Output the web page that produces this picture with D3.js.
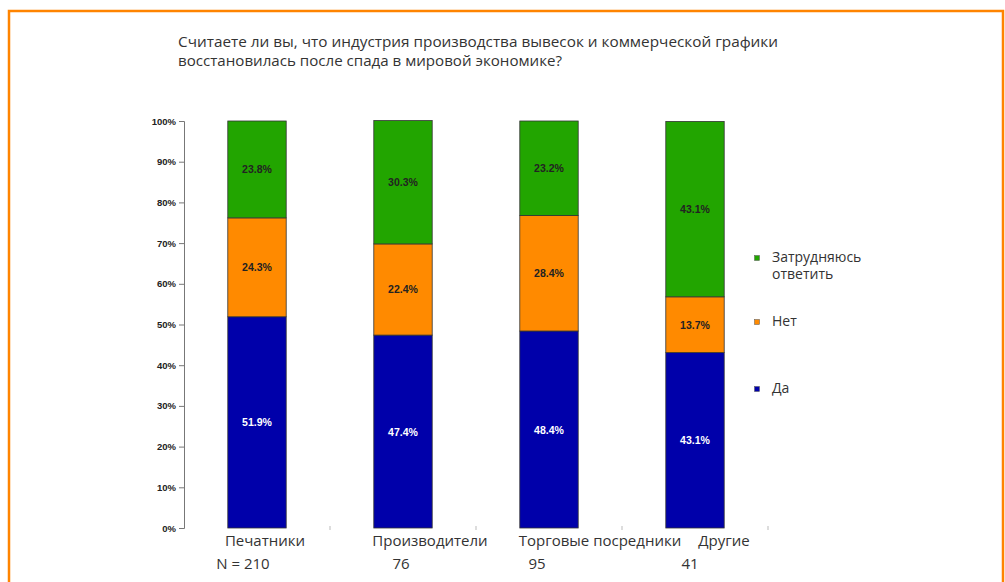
<!DOCTYPE html>
<html>
<head>
<meta charset="utf-8">
<script src="https://cdn.jsdelivr.net/npm/d3@7"></script>
<style>
  body { margin: 0; background: #fff; }
  text { font-family: "Open Sans", "DejaVu Sans", sans-serif; }
  text.num { font-family: "Liberation Sans", Arial, sans-serif; font-weight: bold; }
</style>
</head>
<body>
<svg width="1005" height="582"></svg>
<script>
var categories = ["Печатники", "Производители", "Торговые посредники", "Другие"];
var counts = ["N = 210", "76", "95", "41"];
var seriesNames = ["Да", "Нет", "Затрудняюсь ответить"];
var yes = [51.9, 47.4, 48.4, 43.1];
var no = [24.3, 22.4, 28.4, 13.7];
var unsure = [23.8, 30.3, 23.2, 43.1];
var yTicks = [0, 10, 20, 30, 40, 50, 60, 70, 80, 90, 100];
var titleLines = [
  "Считаете ли вы, что индустрия производства вывесок и коммерческой графики",
  "восстановилась после спада в мировой экономике?"
];

var colors = ["#0000aa", "#ff8a00", "#22a500"];
var textColors = ["#ffffff", "#222222", "#222222"];

var svg = d3.select("svg");

// orange frame
svg.append("path")
  .attr("d", "M9,582 V11 H1003 V582")
  .attr("fill", "none")
  .attr("stroke", "#ff8400")
  .attr("stroke-width", 2.5);

// title
svg.append("g").selectAll("text")
  .data(titleLines)
  .enter()
  .append("text")
  .attr("x", 178)
  .attr("y", function(d, i) { return 47 + i * 19; })
  .attr("font-size", 14)
  .attr("fill", "#333")
  .attr("textLength", function(d, i) { return i === 0 ? 600 : 384; })
  .attr("lengthAdjust", "spacingAndGlyphs")
  .text(function(d) { return d; });

var margin = { left: 184, top: 121 },
  width = 584,
  height = 407,
  g = svg.append("g")
    .attr("transform", "translate(" + margin.left + "," + margin.top + ")");

var x = d3.scaleBand().domain(categories).range([0, width]).paddingInner(0.6).paddingOuter(0.3);
var y = d3.scaleLinear().domain([0, 100]).range([height, 0]);

// y axis
var yAxis = g.append("g")
  .call(d3.axisLeft(y).tickValues(yTicks).tickSize(5).tickFormat(function(d) { return d + "%"; }));
yAxis.select(".domain").attr("stroke", "#777");
yAxis.selectAll(".tick line").attr("stroke", "#777");
yAxis.selectAll(".tick text")
  .attr("class", "num")
  .attr("font-size", 9.5)
  .attr("fill", "#222")
  .attr("x", -8);

// small x ticks between categories
var band = width / categories.length;
g.append("g").selectAll("line")
  .data(categories)
  .enter()
  .append("line")
  .attr("x1", function(d, i) { return band * (i + 1); })
  .attr("x2", function(d, i) { return band * (i + 1); })
  .attr("y1", height - 2)
  .attr("y2", height + 2)
  .attr("stroke", "#bbb");

var table = categories.map(function(c, i) {
  return { cat: c, v0: yes[i], v1: no[i], v2: unsure[i] };
});
var stack = d3.stack().keys(["v0", "v1", "v2"]);
var layers = stack(table);

var lg = g.selectAll(".layer")
  .data(layers)
  .enter()
  .append("g")
  .attr("class", "layer");

lg.selectAll("rect")
  .data(function(d) { return d; })
  .enter()
  .append("rect")
  .attr("x", function(d) { return x(d.data.cat); })
  .attr("y", function(d) { return y(d[1]); })
  .attr("width", x.bandwidth())
  .attr("height", function(d) { return y(d[0]) - y(d[1]); })
  .attr("fill", function() { return colors[d3.select(this.parentNode).datum().index]; })
  .attr("stroke", "#333")
  .attr("stroke-width", 0.8);

lg.selectAll("text")
  .data(function(d) { return d; })
  .enter()
  .append("text")
  .attr("class", "num")
  .attr("x", function(d) { return x(d.data.cat) + x.bandwidth() / 2; })
  .attr("y", function(d) { return (y(d[0]) + y(d[1])) / 2 + 4; })
  .attr("text-anchor", "middle")
  .attr("font-size", 10.5)
  .attr("fill", function() { return textColors[d3.select(this.parentNode).datum().index]; })
  .text(function(d) { return (d[1] - d[0]).toFixed(1) + "%"; });

// category labels (shifted as in the original layout)
var labelShift = [8, 27, 51, 29];
var countShift = [-14, -2, -12, -5];
g.append("g").selectAll("text")
  .data(categories)
  .enter()
  .append("text")
  .attr("x", function(d, i) { return x(d) + x.bandwidth() / 2 + labelShift[i]; })
  .attr("y", height + 18)
  .attr("text-anchor", "middle")
  .attr("font-size", 15)
  .attr("fill", "#333")
  .text(function(d) { return d; });

g.append("g").selectAll("text")
  .data(counts)
  .enter()
  .append("text")
  .attr("x", function(d, i) { return x(categories[i]) + x.bandwidth() / 2 + countShift[i]; })
  .attr("y", height + 41)
  .attr("text-anchor", "middle")
  .attr("font-size", 15)
  .attr("fill", "#333")
  .text(function(d) { return d; });

// legend (top to bottom: unsure, no, yes)
var legendY = [258, 322, 389];
var legend = svg.append("g").selectAll("g")
  .data([2, 1, 0])
  .enter()
  .append("g")
  .attr("transform", function(d, i) { return "translate(757," + legendY[i] + ")"; });
legend.append("rect")
  .attr("x", -2.5).attr("y", -2.5)
  .attr("width", 5).attr("height", 5)
  .attr("fill", function(d) { return colors[d]; })
  .attr("stroke", "#555")
  .attr("stroke-width", 0.5);
legend.append("text")
  .attr("x", 15)
  .attr("y", 4)
  .attr("font-size", 14)
  .attr("fill", "#333")
  .each(function(d) {
    var words = d === 2 ? ["Затрудняюсь", "ответить"] : [seriesNames[d]];
    var t = d3.select(this);
    words.forEach(function(w, k) {
      t.append("tspan").attr("x", 15).attr("dy", k === 0 ? 0 : 17).text(w);
    });
  });
</script>
</body>
</html>
